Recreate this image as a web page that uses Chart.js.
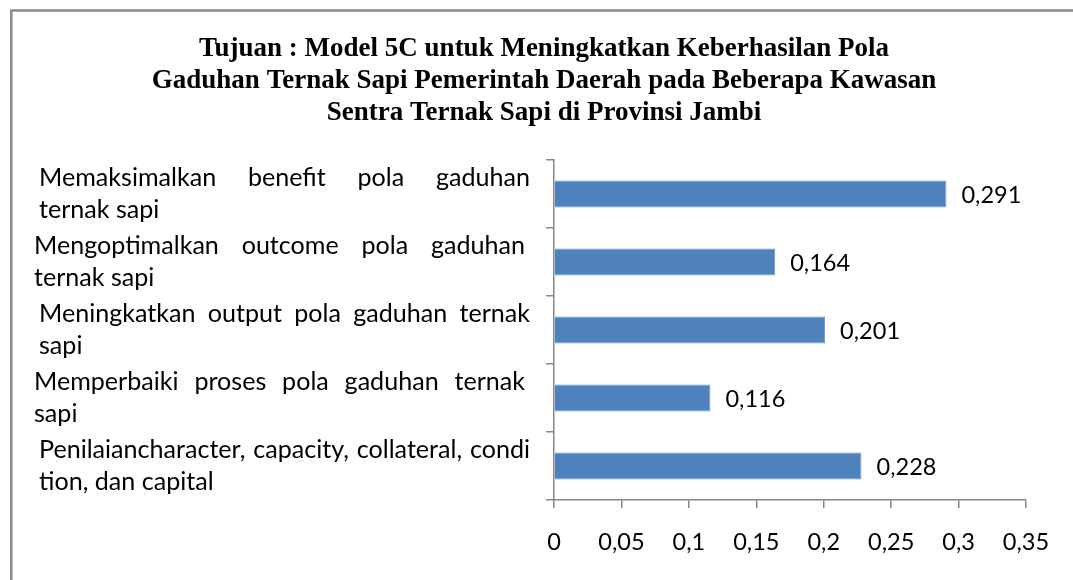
<!DOCTYPE html>
<html>
<head>
<meta charset="utf-8">
<script src="https://cdn.jsdelivr.net/npm/chart.js@4/dist/chart.umd.min.js"></script>
<style>
html,body{margin:0;padding:0;background:#fff;}
#c{display:block;}
</style>
</head>
<body>
<canvas id="c" width="1073" height="580"></canvas>
<script>
// ---- data ----
const categoryLines = [
  ["Memaksimalkan benefit pola gaduhan", "ternak sapi"],
  ["Mengoptimalkan outcome pola gaduhan", "ternak sapi"],
  ["Meningkatkan output pola gaduhan ternak", "sapi"],
  ["Memperbaiki proses pola gaduhan ternak", "sapi"],
  ["Penilaiancharacter, capacity, collateral, condi", "tion, dan capital"]
];
const categories = categoryLines.map(l => l.join(" "));
const values = [0.291, 0.164, 0.201, 0.116, 0.228];
const xTickMin = 0, xTickMax = 0.35, xTickStep = 0.05;
const titleLines = [
  "Tujuan : Model 5C untuk Meningkatkan Keberhasilan Pola",
  "Gaduhan Ternak Sapi Pemerintah Daerah pada Beberapa Kawasan",
  "Sentra Ternak Sapi di Provinsi Jambi"
];

// ---- styling ----
const SANS = "Lato";
const SERIF = "Liberation Serif";
const fmt = v => String(Math.round(v * 1000) / 1000).replace('.', ',');
const meas = document.createElement('canvas').getContext('2d');
function fitSize(text, family, weight, target, maxSize) {
  meas.font = weight + " 100px " + family;
  const w = meas.measureText(text).width;
  return Math.min(maxSize, 100 * target / w);
}
const labelWidth = 491;
const labelSize = fitSize("Penilaiancharacter, capacity, collateral, condi", SANS, "normal", labelWidth - 4, 26);
const numSize = fitSize("0,291", SANS, "normal", 60, 26);
const titleSize = fitSize(titleLines[1], SERIF, "bold", 818, 27);
const labelIndent = [39, 34, 39, 34, 39];

const frame = {
  id: 'frame',
  beforeDraw(chart) {
    const ctx = chart.ctx;
    ctx.save();
    ctx.strokeStyle = '#8a8a8a';
    ctx.lineWidth = 2.5;
    ctx.strokeRect(11.3, 10.5, 1200, 800);
    ctx.restore();
  }
};

const titleDraw = {
  id: 'titleDraw',
  afterDraw(chart) {
    const ctx = chart.ctx;
    ctx.save();
    ctx.fillStyle = '#000';
    ctx.font = "bold " + titleSize + "px " + SERIF;
    ctx.textAlign = 'center';
    ctx.textBaseline = 'middle';
    titleLines.forEach((t, i) => ctx.fillText(t, 544, 49 + i * 32));
    ctx.restore();
  }
};

const catLabels = {
  id: 'catLabels',
  afterDraw(chart) {
    const ctx = chart.ctx;
    const ys = chart.scales.y;
    ctx.save();
    ctx.fillStyle = '#000';
    ctx.font = labelSize + "px " + SANS;
    ctx.textBaseline = 'middle';
    ctx.textAlign = 'left';
    const lh = 32;
    categoryLines.forEach((lines, i) => {
      const cy = ys.getPixelForValue(i);
      const x0 = labelIndent[i];
      lines.forEach((line, k) => {
        const y = cy + (k - (lines.length - 1) / 2) * lh;
        if (k < lines.length - 1) {
          const words = line.split(' ');
          const ws = words.map(w => ctx.measureText(w).width);
          const total = ws.reduce((a, b) => a + b, 0);
          const gap = words.length > 1 ? (labelWidth - total) / (words.length - 1) : 0;
          let x = x0;
          words.forEach((w, j) => { ctx.fillText(w, x, y); x += ws[j] + gap; });
        } else {
          ctx.fillText(line, x0, y);
        }
      });
    });
    ctx.restore();
  }
};

const dataLabels = {
  id: 'dataLabels',
  afterDatasetsDraw(chart) {
    const ctx = chart.ctx;
    const meta = chart.getDatasetMeta(0);
    ctx.save();
    ctx.fillStyle = '#000';
    ctx.font = numSize + "px " + SANS;
    ctx.textBaseline = 'middle';
    ctx.textAlign = 'left';
    meta.data.forEach((bar, i) => {
      ctx.fillText(fmt(values[i]), bar.x + 15, bar.y + 1);
    });
    ctx.restore();
  }
};

new Chart(document.getElementById('c'), {
  type: 'bar',
  data: {
    labels: categories,
    datasets: [{
      data: values,
      backgroundColor: '#4F81BD',
      borderColor: '#7098cc',
      borderWidth: 1,
      barPercentage: 0.4,
      categoryPercentage: 1
    }]
  },
  options: {
    indexAxis: 'y',
    responsive: false,
    animation: false,
    layout: { padding: { left: 20, right: 47, top: 160, bottom: 0 } },
    plugins: {
      legend: { display: false },
      tooltip: { enabled: false },
      title: { display: false }
    },
    scales: {
      y: {
        type: 'category',
        offset: true,
        grid: { display: true, drawOnChartArea: false, drawTicks: true, tickLength: 8, color: '#868686', lineWidth: 1.5, offset: true },
        border: { color: '#868686', width: 1.5 },
        ticks: { display: false },
        afterFit(s) { s.width = 534; }
      },
      x: {
        min: xTickMin,
        max: xTickMax,
        grid: { drawOnChartArea: false, drawTicks: true, tickLength: 8, color: '#868686', lineWidth: 1.5 },
        border: { color: '#868686', width: 1.5 },
        ticks: {
          stepSize: xTickStep,
          color: '#000',
          padding: 20,
          font: { family: SANS, size: numSize },
          callback: v => fmt(v)
        },
        afterFit(s) { s.height = 80; }
      }
    }
  },
  plugins: [frame, catLabels, dataLabels, titleDraw]
});
</script>
</body>
</html>
